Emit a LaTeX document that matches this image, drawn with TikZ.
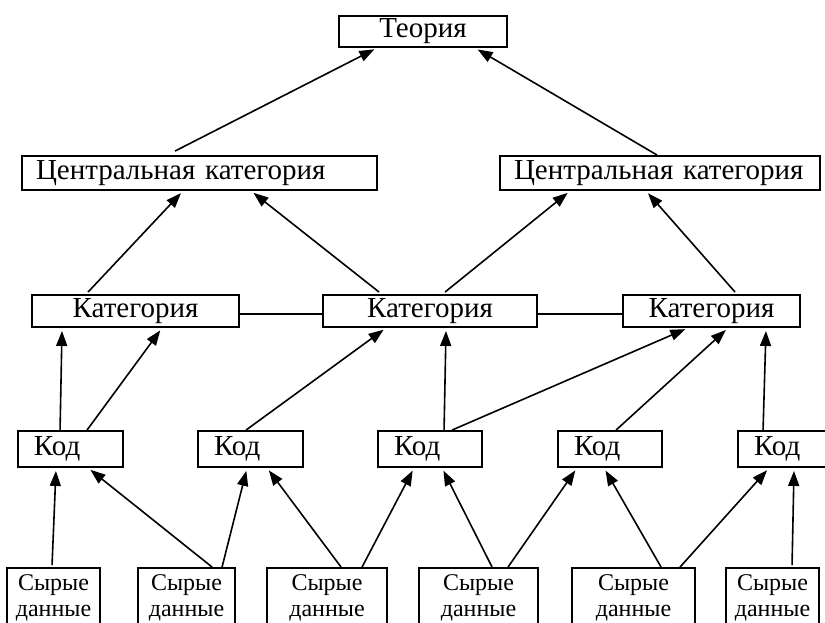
\documentclass[tikz,border=0pt]{standalone}
\usepackage{fontspec}
\setmainfont{Liberation Serif}
\usetikzlibrary{arrows.meta,calc}
\begin{document}
\begin{tikzpicture}[x=1pt,y=-1pt,
  box/.style={draw,line width=1.9pt,inner sep=0pt,font=\fontsize{29}{31}\selectfont},
  lbox/.style={box,inner xsep=14pt,align=left},
  raw/.style={draw,line width=1.9pt,inner sep=0pt,align=center,font=\fontsize{24}{26.5}\selectfont},
  con/.style={line width=1.6pt},
  arr/.style={con,-{Triangle[length=15pt,width=11pt]},shorten >=3pt}]
\useasboundingbox (0,0) rectangle (825,623);
% top
\node[box,minimum width=168pt,minimum height=31pt] (T) at (423,31.5) {Теория};
% central categories
\node[lbox,text width=327pt,minimum height=34pt] (CL) at (199.5,173) {Центральная категория};
\node[lbox,text width=292pt,minimum height=34pt] (CR) at (660,173) {Центральная категория};
% categories
\node[box,minimum width=207pt,minimum height=32pt] (K1) at (135.5,311) {Категория};
\node[box,minimum width=214pt,minimum height=32pt] (K2) at (430,311) {Категория};
\node[box,minimum width=177pt,minimum height=32pt] (K3) at (711.5,311) {Категория};
% codes
\node[lbox,inner xsep=16pt,text width=73pt,minimum height=36pt] (D1) at (70.5,449) {Код};
\node[lbox,inner xsep=16pt,text width=73pt,minimum height=36pt] (D2) at (250.5,449) {Код};
\node[lbox,inner xsep=16pt,text width=72pt,minimum height=36pt] (D3) at (430,449) {Код};
\node[lbox,inner xsep=16pt,text width=72pt,minimum height=36pt] (D4) at (610,449) {Код};
\node[lbox,inner xsep=16pt,text width=73pt,minimum height=36pt] (D5) at (790.5,449) {Код};
% raw data
\node[raw,minimum width=93pt,minimum height=60pt] (S1) at (53.5,598) {Сырые\\данные};
\node[raw,minimum width=97pt,minimum height=60pt] (S2) at (186.5,598) {Сырые\\данные};
\node[raw,minimum width=120pt,minimum height=60pt] (S3) at (327,598) {Сырые\\данные};
\node[raw,minimum width=119pt,minimum height=60pt] (S4) at (478.5,598) {Сырые\\данные};
\node[raw,minimum width=123pt,minimum height=60pt] (S5) at (633.5,598) {Сырые\\данные};
\node[raw,minimum width=93pt,minimum height=60pt] (S6) at (772.5,598) {Сырые\\данные};
% central -> theory
\draw[arr] ($(CL.north west)+(154,-4)$) -- ($(T.south west)+(39,0)$);
\draw[arr] ($(CR.north west)+(158,0)$) -- ($(T.south west)+(137,0)$);
% category -> central
\draw[arr] ($(K1.north west)+(57,-2)$) -- ($(CL.south west)+(162,0)$);
\draw[arr] ($(K2.north west)+(57,-2)$) -- ($(CL.south west)+(230,0)$);
\draw[arr] ($(K2.north west)+(123,-2)$) -- ($(CR.south west)+(71,0)$);
\draw[arr] ($(K3.north west)+(113,-2)$) -- ($(CR.south west)+(147,0)$);
% category links
\draw[con] ($(K1.east)+(0,3)$) -- ($(K2.west)+(0,3)$);
\draw[con] ($(K2.east)+(0,3)$) -- ($(K3.west)+(0,3)$);
% code -> category
\draw[arr] ($(D1.north west)+(43,0)$) -- ($(K1.south west)+(31,0)$);
\draw[arr] ($(D1.north west)+(70,0)$) -- ($(K1.south west)+(131,0)$);
\draw[arr] ($(D2.north west)+(49,0)$) -- ($(K2.south west)+(64,0)$);
\draw[arr] ($(D3.north west)+(67,0)$) -- ($(K2.south west)+(124,0)$);
\draw[arr] ($(D3.north west)+(75,0)$) -- ($(K3.south west)+(66,0)$);
\draw[arr] ($(D4.north west)+(59,0)$) -- ($(K3.south west)+(106,0)$);
\draw[arr] ($(D5.north west)+(26,0)$) -- ($(K3.south west)+(144,0)$);
% raw -> code
\draw[arr] ($(S1.north west)+(46,-2)$) -- ($(D1.south west)+(39,0)$);
\draw[arr] ($(S2.north west)+(75,0)$) -- ($(D1.south west)+(71,0)$);
\draw[arr] ($(S2.north west)+(85,0)$) -- ($(D2.south west)+(50,0)$);
\draw[arr] ($(S3.north west)+(75,0)$) -- ($(D2.south west)+(70,0)$);
\draw[arr] ($(S3.north west)+(96,0)$) -- ($(D3.south west)+(37,0)$);
\draw[arr] ($(S4.north west)+(74,0)$) -- ($(D3.south west)+(65,0)$);
\draw[arr] ($(S4.north west)+(90,0)$) -- ($(D4.south west)+(20,0)$);
\draw[arr] ($(S5.north west)+(90,0)$) -- ($(D4.south west)+(47,0)$);
\draw[arr] ($(S5.north west)+(109,0)$) -- ($(D5.south west)+(32,0)$);
\draw[arr] ($(S6.north west)+(67,-2)$) -- ($(D5.south west)+(57,0)$);
\end{tikzpicture}
\end{document}
